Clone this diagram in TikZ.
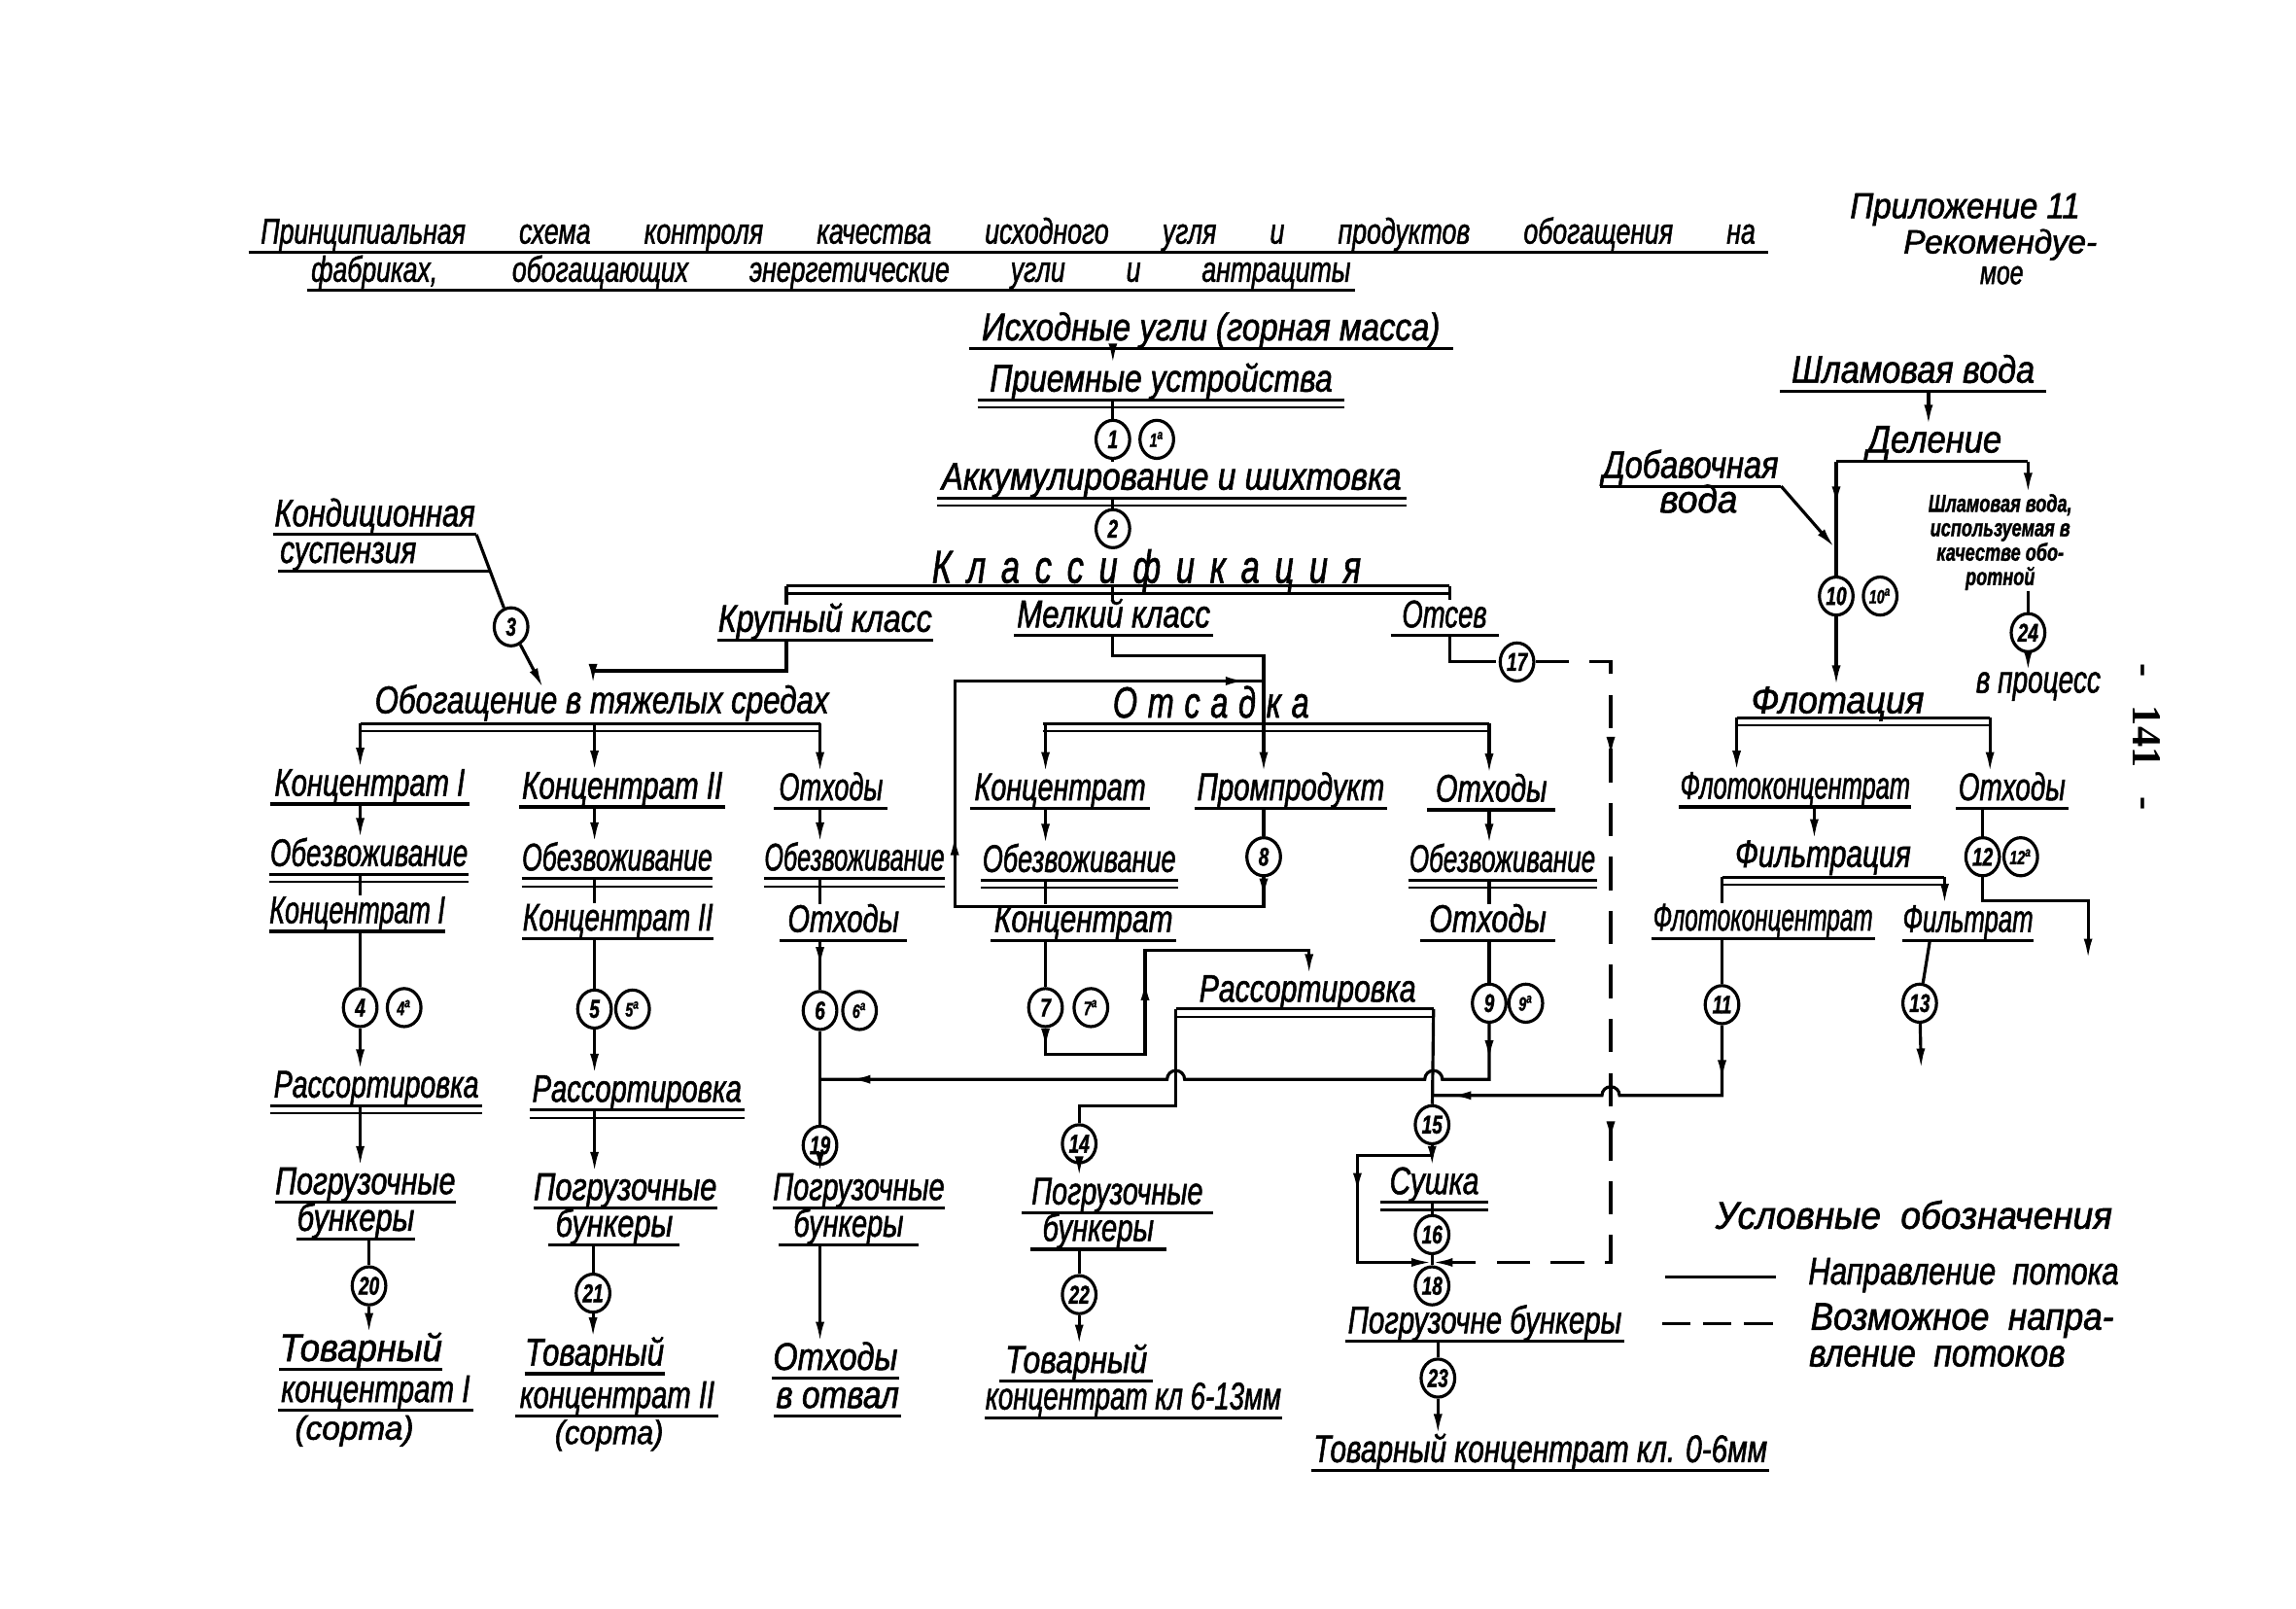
\documentclass[tikz,border=0pt]{standalone}
\usepackage{graphicx}
\usepackage{fontspec}
\setmainfont{Liberation Sans}
\newfontfamily\hw{Liberation Sans}[FakeStretch=0.72,FakeBold=1.3]
\newfontfamily\pgnumfont{Liberation Serif}
\usetikzlibrary{shapes.geometric,arrows.meta,decorations.markings}
\newcommand\lf{\hw\itshape\fontsize{15}{17}\selectfont}
\newcommand\wbox[2]{\makebox[#1cm][s]{#2}}
\newcommand\fitw[2]{\resizebox{#1cm}{\height}{#2}}
\begin{document}
\begin{tikzpicture}[x=0.02cm,y=-0.02cm,
 ln/.style={line width=1.2pt},
 ahead/.style={-{Latex[length=8pt,width=3.4pt]}},
 arr/.style={ln,ahead},
 dsh/.style={line width=1.2pt,dash pattern=on 13pt off 8pt},
 lbl/.style={anchor=south,font=\lf,inner xsep=0pt,inner ysep=0pt,text height=10.5pt,text depth=3pt,minimum width=#1*0.02cm},
 txt/.style={anchor=base,font=\lf,inner sep=0pt},
 circ/.style={ellipse,draw,line width=1.2pt,minimum width=0.46cm,minimum height=0.52cm,inner sep=0pt,font=\hw\itshape\bfseries\fontsize{10}{10}\selectfont},
 circa/.style={circ,font=\hw\itshape\bfseries\fontsize{7.5}{8}\selectfont},
 ma/.style={postaction={decorate,decoration={markings,mark=at position #1 with {\arrow{Latex[length=8pt,width=3.4pt]}}}}},
]
\fill[white] (0,0) rectangle (1568,1098);
\useasboundingbox (0,0) rectangle (1568,1098);

% ---------- title ----------
\node[lbl=1037,font=\hw\itshape\fontsize{14}{15}\selectfont] (ti1) at (688.5,172) {\wbox{20.42}{Принципиальная схема контроля качества исходного угля и продуктов обогащения на}};
\node[lbl=715,font=\hw\itshape\fontsize{14}{15}\selectfont] (ti2) at (567.5,198) {\wbox{14.2}{фабриках, обогащающих энергетические угли и антрациты}};
\node[txt,font=\hw\itshape\fontsize{14}{15}\selectfont] (app) at (1342,149) {\fitw{3.14}{Приложение 11}};
\node[txt,font=\hw\itshape\fontsize{13}{14}\selectfont] (rec1) at (1366,173) {\fitw{2.64}{Рекомендуе-}};
\node[txt,font=\hw\itshape\fontsize{13}{14}\selectfont] (rec2) at (1367,194) {мое};
\node[font=\pgnumfont\bfseries\fontsize{16}{16}\selectfont,rotate=-90,inner sep=0pt] (pg) at (1466,503) {-\hspace{0.7em}141\hspace{0.7em}-};

% ---------- column coordinates ----------
\coordinate (X0) at (760,0);
\coordinate (XO) at (405,0);
\coordinate (C1) at (246,0);
\coordinate (C2) at (406,0);
\coordinate (C3) at (560,0);
\coordinate (C4) at (714,0);
\coordinate (C5) at (863,0);
\coordinate (C6) at (1017,0);
\coordinate (F0) at (1317,0);
\coordinate (F6) at (1239,0);
\coordinate (ftx) at (1318,0);
\coordinate (mlj) at (0,448);

% ---------- main column ----------
\node[lbl=330] (src) at (827,238) {\fitw{6.26}{Исходные угли (горная масса)}};
\node[lbl=250] (recv) at (793,273) {\fitw{4.68}{Приемные устройства}};
\node[circ] (c1) at (760,300) {1};
\node[circa] (c1a) at (790,300) {1\textsuperscript{а}};
\node[lbl=320] (acc) at (800,340) {\fitw{6.28}{Аккумулирование и шихтовка}};
\node[circ] (c2) at (760,361) {2};
\node[txt,font=\hw\itshape\fontsize{18}{20}\selectfont] (cls) at (783,398) {\wbox{5.86}{К л а с с и ф и к а ц и я}};
\node[lbl=147] (kr) at (563.5,437) {\fitw{2.92}{Крупный класс}};
\node[lbl=135] (ml) at (760.5,434) {\fitw{2.64}{Мелкий класс}};
\node[lbl=73] (ots) at (986.5,434) {\fitw{1.16}{Отсев}};
\node[lbl=138] (kond) at (256,365) {\fitw{2.74}{Кондиционная}};
\node[lbl=95,anchor=south west] (susp) at (190,390) {\fitw{1.86}{суспензия}};
\node[circ] (c3) at (349,428) {3};
\coordinate (obk) at (371,470);
\node[txt,font=\hw\itshape\fontsize{15}{16}\selectfont] (obog) at (411,487) {\fitw{6.2}{Обогащение в тяжелых средах}};

% ---------- column 1 ----------
\node[lbl=135] (k1) at (252.5,549) {\fitw{2.6}{Концентрат I}};
\node[lbl=135] (ob1) at (252,597) {\fitw{2.7}{Обезвоживание}};
\node[lbl=120] (k1b) at (244,636) {\fitw{2.4}{Концентрат I}};
\node[circ] (c4) at (246,688) {4};
\node[circa] (c4a) at (276,688) {4\textsuperscript{а}};
\node[lbl=144] (r1) at (257,755) {\fitw{2.8}{Рассортировка}};
\node[lbl=123] (p1) at (249.5,821) {\fitw{2.46}{Погрузочные}};
\node[lbl=80] (b1) at (243,846) {\fitw{1.6}{бункеры}};
\node[circ] (c20) at (252,878) {20};
\node[lbl=111] (t1) at (246.5,935) {\fitw{2.22}{Товарный}};
\node[lbl=133] (tk1) at (256.5,963) {\fitw{2.58}{концентрат I}};
\node[txt,font=\hw\itshape\fontsize{13}{14}\selectfont] (s1) at (242,983) {\fitw{1.62}{(сорта)}};

% ---------- column 2 ----------
\node[lbl=140] (k2) at (425,551) {\fitw{2.74}{Концентрат II}};
\node[lbl=130] (ob2) at (421.5,600) {\fitw{2.6}{Обезвоживание}};
\node[lbl=130] (k2b) at (422,641) {\fitw{2.6}{Концентрат II}};
\node[circ] (c5) at (406,689) {5};
\node[circa] (c5a) at (432,689) {5\textsuperscript{а}};
\node[lbl=146] (r2) at (435,758) {\fitw{2.86}{Рассортировка}};
\node[lbl=124] (p2) at (427,825) {\fitw{2.5}{Погрузочные}};
\node[lbl=89] (b2) at (419.5,850) {\fitw{1.6}{бункеры}};
\node[circ] (c21) at (405,883) {21};
\node[lbl=95] (t2) at (406,938) {\fitw{1.9}{Товарный}};
\node[lbl=138] (tk2) at (421.5,967) {\fitw{2.66}{концентрат II}};
\node[txt,font=\hw\itshape\fontsize{13}{14}\selectfont] (s2) at (416,986) {\fitw{1.48}{(сорта)}};

% ---------- column 3 ----------
\node[lbl=77] (o3) at (567.5,552) {\fitw{1.42}{Отходы}};
\node[lbl=123] (ob3) at (583.5,600) {\fitw{2.46}{Обезвоживание}};
\node[lbl=86] (o3b) at (576,642) {\fitw{1.52}{Отходы}};
\node[circ] (c6) at (560,690) {6};
\node[circa] (c6a) at (587,690) {6\textsuperscript{а}};
\node[circ] (c19) at (560,782) {19};
\node[lbl=117] (p3) at (586.5,825) {\fitw{2.34}{Погрузочные}};
\node[lbl=95] (b3) at (579.5,850) {\fitw{1.5}{бункеры}};
\node[lbl=86] (o3c) at (570.5,941) {\fitw{1.7}{Отходы}};
\node[lbl=86] (otv) at (572,967) {\fitw{1.68}{в отвал}};

% ---------- Отсадка ----------
\node[txt,font=\hw\itshape\fontsize{17}{18}\selectfont] (otsd) at (827,490) {\wbox{2.68}{О т с а д к а}};
\node[lbl=122] (kc) at (724,552) {\fitw{2.34}{Концентрат}};
\node[lbl=134] (ob4) at (737,601) {\fitw{2.64}{Обезвоживание}};
\node[lbl=126] (kc2) at (740,642) {\fitw{2.44}{Концентрат}};
\node[circ] (c7) at (714,688) {7};
\node[circa] (c7a) at (745,688) {7\textsuperscript{а}};
\node[lbl=131] (pp) at (881.5,552) {\fitw{2.56}{Промпродукт}};
\node[circ] (c8) at (863,585) {8};
\node[lbl=87] (o5) at (1018.5,553) {\fitw{1.52}{Отходы}};
\node[lbl=128] (ob5) at (1026,601) {\fitw{2.54}{Обезвоживание}};
\node[lbl=92] (o5b) at (1016,642) {\fitw{1.6}{Отходы}};
\node[circ] (c9) at (1017,685) {9};
\node[circa] (c9a) at (1042,685) {9\textsuperscript{а}};
\node[txt] (ras) at (893,684) {\fitw{2.96}{Рассортировка}};
\node[circ] (c14) at (737,781) {14};
\node[lbl=130] (p4) at (763,828) {\fitw{2.34}{Погрузочные}};
\node[lbl=92] (b4) at (750,853) {\fitw{1.52}{бункеры}};
\node[circ] (c22) at (737,884) {22};
\node[lbl=104] (t4) at (735,943) {\fitw{1.94}{Товарный}};
\node[lbl=198] (tk4) at (774,968) {\fitw{4.04}{концентрат кл 6-13мм}};
\node[circ] (c15) at (978,768) {15};
\node[lbl=73] (su) at (979.5,821) {\fitw{1.22}{Сушка}};
\node[circ] (c16) at (978,843) {16};
\node[circ] (c18) at (978,878) {18};
\node[lbl=190] (pb) at (1014,916) {\fitw{3.74}{Погрузочне бункеры}};
\node[circ] (c23) at (982,941) {23};
\node[lbl=312] (tk5) at (1052,1004) {\fitw{6.2}{Товарный концентрат кл. 0-6мм}};
\node[circ] (c17) at (1036,452) {17};

% ---------- flotation ----------
\node[lbl=181] (shv) at (1306.5,267) {\fitw{3.32}{Шламовая вода}};
\node[txt] (del) at (1321,309) {\fitw{1.84}{Деление}};
\node[lbl=123] (dob) at (1154.5,332) {\fitw{2.4}{Добавочная}};
\node[txt] (voda) at (1160,350) {\fitw{1.06}{вода}};
\node[align=center,font=\hw\itshape\bfseries\fontsize{9.5}{9.5}\selectfont,inner sep=0pt,anchor=north] (shv2) at (1366,337) {Шламовая вода,\\используемая в\\качестве обо-\\ротной};
\node[circ] (c24) at (1385,432) {24};
\node[txt] (vpr) at (1392,473) {\fitw{1.7}{в процесс}};
\node[circ] (c10) at (1254,407) {10};
\node[circa] (c10a) at (1284,407) {10\textsuperscript{а}};
\node[txt] (flot) at (1255,487) {\fitw{2.36}{Флотация}};
\node[lbl=158] (fk) at (1226,551) {\fitw{3.14}{Флотоконцентрат}};
\node[lbl=76] (fo) at (1374,552) {\fitw{1.46}{Отходы}};
\node[txt] (filt) at (1245,592) {\fitw{2.4}{Фильтрация}};
\node[lbl=152] (fk2) at (1204,641) {\fitw{3.0}{Флотоконцентрат}};
\node[lbl=86] (ft) at (1344,642) {\fitw{1.78}{Фильтрат}};
\node[circ] (c11) at (1176,686) {11};
\node[circ] (c12) at (1354,585) {12};
\node[circa] (c12a) at (1380,585) {12\textsuperscript{а}};
\node[circ] (c13) at (1311,685) {13};

% ---------- legend ----------
\node[txt,font=\hw\itshape\fontsize{15}{16}\selectfont] (leg) at (1307,839) {\fitw{5.42}{Условные \ обозначения}};
\node[txt] (leg1) at (1341,877) {\fitw{4.24}{Направление \ потока}};
\node[txt] (leg2) at (1340,908) {\fitw{4.14}{Возможное \ напра-}};
\node[txt] (leg3) at (1323,933) {\fitw{3.5}{вление \ потоков}};
\coordinate (l1a) at (1137,872); \coordinate (l1b) at (1213,872);
\coordinate (l2a) at (1135,904); \coordinate (l2b) at (1216,904);
\draw[ln] (l1a) -- (l1b);
\draw[ln,dash pattern=on 11pt off 5pt] (l2a) -- (l2b);

% ---------- underlines ----------
\foreach \n in {ti1,ti2,src,recv,acc,kr,ml,ots,kond,k1,ob1,k1b,r1,p1,b1,t1,tk1,k2,ob2,k2b,r2,p2,b2,t2,tk2,o3,ob3,o3b,p3,b3,o3c,otv,kc,ob4,kc2,pp,o5,ob5,o5b,p4,b4,t4,tk4,su,pb,tk5,shv,dob,fk,fo,fk2,ft}
  \draw[ln] (\n.south west) -- (\n.south east);
\foreach \n in {recv,acc,ob1,ob2,ob3,ob4,ob5,r1,r2,su}
  \draw[line width=0.9pt] ([yshift=-3pt]\n.south west) -- ([yshift=-3pt]\n.south east);
\draw[ln] (susp.south west) -- ++(144,0);

% ---------- branch bars ----------
\coordinate (clsL) at (537,400); \coordinate (clsR) at (990,400);
\coordinate (obL) at (246,494); \coordinate (obR) at (560,494);
\coordinate (otL) at (712,494); \coordinate (otR) at (1017,494);
\coordinate (raL) at (803,689); \coordinate (raR) at (979,689);
\coordinate (flL) at (1186,490); \coordinate (flR) at (1359,490);
\coordinate (fiL) at (1176,599); \coordinate (fiR) at (1328,599);
\coordinate (deL) at (1254,315); \coordinate (deR) at (1385,315);
\foreach \a/\b in {clsL/clsR,obL/obR,otL/otR,raL/raR,flL/flR,fiL/fiR}{
  \draw[ln] (\a) -- (\b);
  \draw[line width=0.9pt] ([yshift=-3pt]\a) -- ([yshift=-3pt]\b);}
\draw[ln] (deL) -- (deR);

% ---------- main connectors ----------
\draw[arr] (src.south -| X0) -- (recv.north -| X0);
\draw[ln] (recv.south -| X0) -- (c1);
\draw[ln] (c1) -- (acc.north -| X0);
\draw[ln] (acc.south -| X0) -- (c2);
\draw[ln] (clsL) -- (kr.north -| clsL);
\draw[ln] (clsL -| X0) -- (ml.north -| X0);
\draw[ln] (clsR) -- (ots.north -| clsR);
\draw[arr] (kr.south -| clsL) -- ++(0,21) -| (obog.north -| XO);
\draw[ln] (kond.south east) -- (c3);
\draw[arr] (c3) -- (obk);

% obog bar to columns
\draw[arr] (obL) -- (k1.north -| C1);
\draw[arr] (obL -| C2) -- (k2.north -| C2);
\draw[arr] (obR) -- (o3.north -| C3);

% column 1
\draw[arr] (k1.south -| C1) -- (ob1.north -| C1);
\draw[ln] (ob1.south -| C1) -- (k1b.north -| C1);
\draw[ln] (k1b.south -| C1) -- (c4);
\draw[arr] (c4) -- (r1.north -| C1);
\draw[arr] (r1.south -| C1) -- (p1.north -| C1);
\draw[ln] (b1.south -| c20) -- (c20);
\draw[arr] (c20) -- (t1.north -| c20);

% column 2
\draw[arr] (k2.south -| C2) -- (ob2.north -| C2);
\draw[ln] (ob2.south -| C2) -- (k2b.north -| C2);
\draw[ln] (k2b.south -| C2) -- (c5);
\draw[arr] (c5) -- (r2.north -| C2);
\draw[arr] (r2.south -| C2) -- (p2.north -| C2);
\draw[ln] (b2.south -| c21) -- (c21);
\draw[arr] (c21) -- (t2.north -| c21);

% column 3
\draw[arr] (o3.south -| C3) -- (ob3.north -| C3);
\draw[ln] (ob3.south -| C3) -- (o3b.north -| C3);
\draw[ln,ma=0.55] (o3b.south -| C3) -- (c6);
\draw[ln] (c6) -- (c19);
\draw[arr] (c19) -- (p3.north -| C3);
\draw[arr] (b3.south -| C3) -- (o3c.north -| C3);

% Отсадка
\draw[arr] (ml.south -| X0) |- (mlj -| C5) -- (pp.north -| C5);
\draw[arr] (otL -| C4) -- (kc.north -| C4);
\draw[arr] (otR) -- (o5.north -| C6);
\draw[arr] (kc.south -| C4) -- (ob4.north -| C4);
\draw[ln] (ob4.south -| C4) -- (kc2.north -| C4);
\draw[ln] (kc2.south -| C4) -- (c7);
\draw[ln] (pp.south -| C5) -- (c8);
\coordinate (lbr) at (863,619); \coordinate (lbl) at (652,619);
\coordinate (ltl) at (652,465); \coordinate (ltr) at (863,465);
\draw[ln,ma=0.025,ma=0.47,ma=0.98] (c8) -- (lbr) -- (lbl) -- (ltl) -- (ltr);
\coordinate (r7a) at (714,720); \coordinate (r7b) at (782,720);
\coordinate (r7c) at (782,649); \coordinate (r7d) at (894,649);
\draw[arr,ma=0.05,ma=0.48] (c7) -- (r7a) -- (r7b) -- (r7c) -- (r7d) -- (ras.north -| r7d);
\draw[arr] (o5.south -| C6) -- (ob5.north -| C6);
\draw[ln] (ob5.south -| C6) -- (o5b.north -| C6);
\draw[ln] (o5b.south -| C6) -- (c9);
\coordinate (J9) at (1017,737); \coordinate (J3) at (560,737);
\coordinate (hb1) at (985,737); \coordinate (hb2) at (809,737);
\draw[ln,ma=0.05,ma=0.96] (c9) -- (J9) -- (hb1) arc[start angle=0,end angle=-180,radius=6] -- (hb2) arc[start angle=0,end angle=-180,radius=6] -- (J3);
\coordinate (rj) at (803,755);
\draw[ln] (raL) -- (rj) -| (c14);
\draw[ln] (raR) -- (c15);
\draw[arr] (c14) -- (p4.north -| c14);
\draw[ln] (b4.south -| c22) -- (c22);
\draw[arr] (c22) -- (t4.north -| c22);

% drying and loading
\draw[arr] (c15) -- (su.north -| c15);
\coordinate (s1a) at (978,789); \coordinate (s2a) at (927,789);
\coordinate (s3a) at (927,862); \coordinate (s4a) at (978,862);
\draw[arr,ma=0.44] (s1a) -- (s2a) -- (s3a) -- (s4a);
\draw[ln] (su.south -| c16) -- (c16);
\draw[ln] (c16) -- (c18);
\draw[ln] (pb.south -| c23) -- (c23);
\draw[arr] (c23) -- (tk5.north -| c23);

% отсев and dashed route
\coordinate (o17) at (990,452); \coordinate (o17b) at (999,452);
\draw[ln] (ots.south -| clsR) -- (o17) -- (o17b);
\draw[dsh] (o17b) -- (c17);
\coordinate (d1) at (1100,452); \coordinate (d2) at (1100,862);
\draw[dsh,ahead,ma=0.2,ma=0.65] (c17) -- (d1) -- (d2) -- (s4a);

% flotation connectors
\draw[arr] (shv.south -| F0) -- (del.north -| F0);
\draw[ln,ma=0.4] (deL) -- (c10);
\draw[arr] (deR) -- (shv2.north -| deR);
\coordinate (dj) at (1253,374);
\draw[arr] (dob.south east) -- (dj);
\draw[ln] (shv2.south -| deR) -- (c24);
\draw[arr] (c24) -- (vpr.north -| deR);
\draw[arr] (c10) -- (flot.north -| c10);
\draw[arr] (flL) -- (fk.north -| flL);
\draw[arr] (flR) -- (fo.north -| flR);
\draw[arr] (fk.south -| F6) -- (filt.north -| F6);
\draw[ln] (fiL) -- (fk2.north -| fiL);
\draw[arr] (fiR) -- (ft.north -| fiR);
\draw[ln] (fk2.south -| c11) -- (c11);
\coordinate (J11) at (1176,748); \coordinate (J15) at (978,748);
\coordinate (hb3) at (1106,748);
\draw[ln,ma=0.15,ma=0.95] (c11) -- (J11) -- (hb3) arc[start angle=0,end angle=-180,radius=6] -- (J15);
\draw[ln] (ft.south -| ftx) -- (c13);
\coordinate (e13) at (1312,730);
\draw[arr] (c13) -- (e13);
\draw[ln] (fo.south -| c12) -- (c12);
\coordinate (q1) at (1354,615); \coordinate (q2) at (1426,615); \coordinate (q3) at (1426,655);
\draw[arr] (c12) -- (q1) -- (q2) -- (q3);
\end{tikzpicture}
\end{document}
